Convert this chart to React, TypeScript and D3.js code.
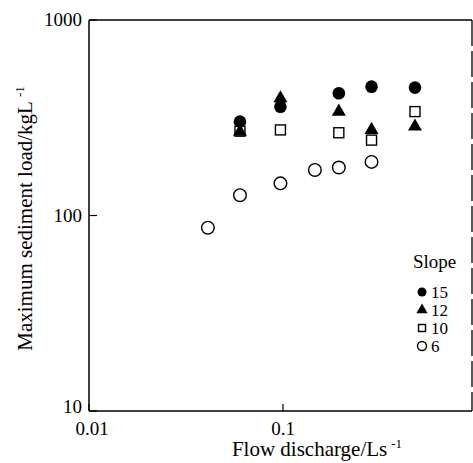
import React from 'react'
import * as d3 from 'd3'

// flow discharge (L/s) and max sediment load (kg/L) per slope
const q15 = [0.06, 0.097, 0.194, 0.286, 0.479]
const load15 = [302, 360, 422, 456, 451]
const q12 = [0.06, 0.097, 0.194, 0.286, 0.479]
const load12 = [268, 398, 340, 274, 285]
const q10 = [0.06, 0.097, 0.194, 0.286, 0.479]
const load10 = [270, 274, 265, 243, 340]
const q6 = [0.041, 0.06, 0.097, 0.146, 0.194, 0.286]
const load6 = [86.6, 127, 146, 171, 176, 188]

const xTicks = [0.01, 0.1, 1]
const xTickLabels = ['0.01', '0.1', '1']
const yTicks = [10, 100, 1000]
const yTickLabels = ['10', '100', '1000']
const slopes = ['15', '12', '10', '6']

const W = 473
const H = 463
const font = '"Liberation Serif", "Times New Roman", serif'

function App() {
    const x = d3.scaleLog().domain([0.01, 1]).range([89, 477])
    const y = d3.scaleLog().domain([10, 1000]).range([411, 20])
    const tri = d3.symbol().type(d3.symbolTriangle).size(85)
    const triSmall = d3.symbol().type(d3.symbolTriangle).size(55)

    const top = y(1000)
    const bottom = y(10)
    const left = x(0.01)
    const right = W - 1

    const marker = (kind: number, cx: number, cy: number, small: boolean, key: string) => {
        const r = small ? 4.5 : 6.3
        if (kind === 0) return <circle key={key} cx={cx} cy={cy} r={r} fill="#000" />
        if (kind === 1) return <path key={key} d={(small ? triSmall : tri)() as string} transform={`translate(${cx},${cy})`} fill="#000" />
        if (kind === 2) {
            const s = small ? 7 : 10
            return <rect key={key} x={cx - s / 2} y={cy - s / 2} width={s} height={s} fill="#fff" stroke="#000" strokeWidth={1.4} />
        }
        return <circle key={key} cx={cx} cy={cy} r={r} fill="#fff" stroke="#000" strokeWidth={1.4} />
    }

    const series = [
        { q: q6, v: load6, kind: 3 },
        { q: q10, v: load10, kind: 2 },
        { q: q12, v: load12, kind: 1 },
        { q: q15, v: load15, kind: 0 },
    ]

    return (
        <svg width={W} height={H} style={{ position: 'absolute', left: 0, top: 0, background: '#fff' }} fontFamily={font}>
            {/* frame */}
            <line x1={left} y1={top} x2={right} y2={top} stroke="#000" strokeWidth={1.5} />
            <line x1={left} y1={bottom} x2={right} y2={bottom} stroke="#000" strokeWidth={1.5} />
            <line x1={left} y1={top} x2={left} y2={bottom} stroke="#000" strokeWidth={1.5} />
            <line x1={right} y1={top} x2={right} y2={bottom} stroke="#000" strokeWidth={1.3} strokeDasharray="26,5" />

            {/* ticks */}
            {xTicks.map((t, i) => (
                <g key={'xt' + i}>
                    <line x1={x(t)} x2={x(t)} y1={bottom} y2={bottom - 7} stroke="#000" strokeWidth={1.2} />
                    <text x={x(t) + (i === 0 ? 3 : 0)} y={bottom + 24} fontSize={19} textAnchor="middle">{xTickLabels[i]}</text>
                </g>
            ))}
            {yTicks.map((t, i) => (
                <g key={'yt' + i}>
                    <line x1={left} x2={left + 8} y1={y(t)} y2={y(t)} stroke="#000" strokeWidth={1.2} />
                    <text x={left - 7} y={y(t) + 6 - (i === 0 ? 4 : 0)} fontSize={19} textAnchor="end">{yTickLabels[i]}</text>
                </g>
            ))}

            {/* axis titles */}
            <text x={317} y={456} fontSize={21} textAnchor="middle">
                Flow discharge/Ls<tspan dx={4} dy={-8} fontSize={13}>-1</tspan>
            </text>
            <text transform={`translate(32,${(top + bottom) / 2 + 3}) rotate(-90)`} fontSize={21} textAnchor="middle">
                Maximum sediment load/kgL<tspan dx={4} dy={-8} fontSize={13}>-1</tspan>
            </text>

            {/* points */}
            {series.map((s, si) => s.q.map((q, i) => marker(s.kind, x(q), y(s.v[i]), false, `p${si}-${i}`)))}

            {/* legend */}
            <text x={413} y={268} fontSize={19}>Slope</text>
            {slopes.map((sl, i) => (
                <g key={'lg' + i}>
                    {marker(i, 422, 292 + i * 18, true, 'lm' + i)}
                    <text x={431} y={298 + i * 18} fontSize={17}>{sl}</text>
                </g>
            ))}
        </svg>
    )
}

export default App
